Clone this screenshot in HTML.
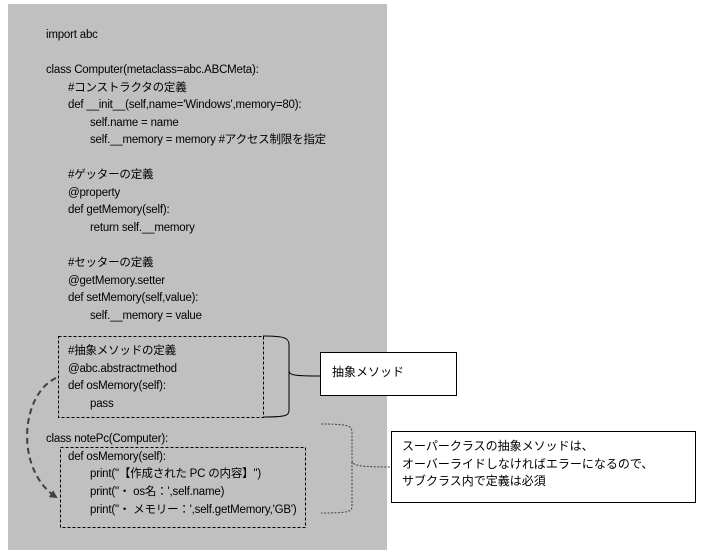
<!DOCTYPE html>
<html><head><meta charset="utf-8"><style>
body{margin:0;background:#fff;width:706px;height:555px;position:relative;overflow:hidden;font-family:"Liberation Sans","Noto Sans CJK JP",sans-serif;font-size:11.5px;color:#000}
.p{position:absolute;left:8px;top:4px;width:379px;height:546px;background:#c0c0c0}
.l{position:absolute;white-space:pre;line-height:14px;letter-spacing:-0.2px}
svg{position:absolute;left:0;top:0}
.t{position:absolute;white-space:pre;font-size:12px;line-height:17.5px}
</style></head><body>
<div class="p"></div>
<div class="l" style="left:46px;top:28px">import abc</div>
<div class="l" style="left:46px;top:63px">class Computer(metaclass=abc.ABCMeta):</div>
<div class="l" style="left:68px;top:81px">#コンストラクタの定義</div>
<div class="l" style="left:68px;top:98px">def __init__(self,name='Windows',memory=80):</div>
<div class="l" style="left:90px;top:116px">self.name = name</div>
<div class="l" style="left:90px;top:133px">self.__memory = memory #アクセス制限を指定</div>
<div class="l" style="left:68px;top:168px">#ゲッターの定義</div>
<div class="l" style="left:68px;top:186px">@property</div>
<div class="l" style="left:68px;top:203px">def getMemory(self):</div>
<div class="l" style="left:90px;top:221px">return self.__memory</div>
<div class="l" style="left:68px;top:256px">#セッターの定義</div>
<div class="l" style="left:68px;top:274px">@getMemory.setter</div>
<div class="l" style="left:68px;top:291px">def setMemory(self,value):</div>
<div class="l" style="left:90px;top:309px">self.__memory = value</div>
<div class="l" style="left:68px;top:344px">#抽象メソッドの定義</div>
<div class="l" style="left:68px;top:362px">@abc.abstractmethod</div>
<div class="l" style="left:68px;top:379px">def osMemory(self):</div>
<div class="l" style="left:90px;top:397px">pass</div>
<div class="l" style="left:46px;top:432px">class notePc(Computer):</div>
<div class="l" style="left:68px;top:450px">def osMemory(self):</div>
<div class="l" style="left:90px;top:467px">print("【作成された PC の内容】")</div>
<div class="l" style="left:90px;top:485px">print("・ os名：',self.name)</div>
<div class="l" style="left:90px;top:503px">print("・ メモリー：',self.getMemory,'GB')</div>
<svg width="706" height="555">
<defs><marker id="a" markerWidth="8" markerHeight="8" refX="6" refY="4" orient="auto" markerUnits="userSpaceOnUse"><path d="M0,0 L8,4 L0,8 z" fill="#404040"/></marker></defs>
<rect x="58.5" y="336.5" width="205" height="81" fill="none" stroke="#000" stroke-dasharray="3,2"/>
<rect x="60.5" y="447.5" width="245" height="80" fill="none" stroke="#000" stroke-dasharray="3,2"/>
<path d="M263,336 C285,336 289,338 289,345 L289,370 C289,375 292,376 320,376 M289,370 C289,378 289,380 289,390 L289,410 C289,416 285,417 263,417" fill="none" stroke="#000"/>
<rect x="320.5" y="352.5" width="136" height="43" fill="#fff" stroke="#000"/>
<path d="M321,424 C350,424 352,426 352,433 L352,460 C352,465 356,467 390,467 M352,462 L352,506 C352,512 348,513 321,513" fill="none" stroke="#404040" stroke-dasharray="2,1.5"/>
<rect x="391.5" y="431.5" width="304" height="71" fill="#fff" stroke="#000"/>
<path d="M56,378 C20,395 15,470 56,497" fill="none" stroke="#404040" stroke-width="2" stroke-dasharray="6,4" marker-end="url(#a)"/>
</svg>
<div class="t" style="left:332px;top:364px">抽象メソッド</div>
<div class="t" style="left:402px;top:438px">スーパークラスの抽象メソッドは、
オーバーライドしなければエラーになるので、
サブクラス内で定義は必須</div>
</body></html>
